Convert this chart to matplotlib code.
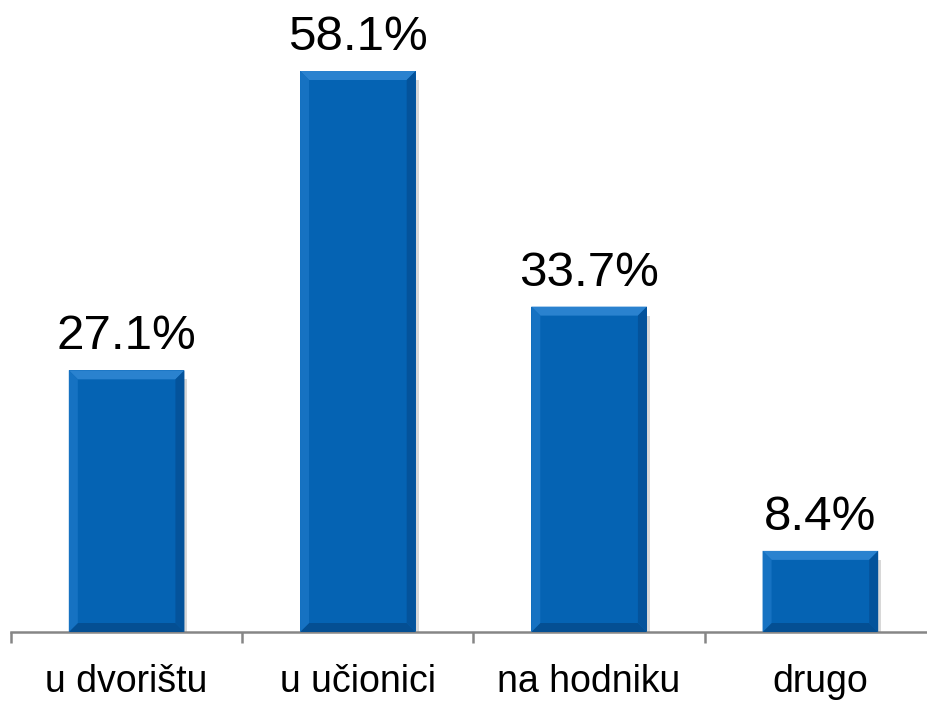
import matplotlib.pyplot as plt
from matplotlib.patches import Polygon

plt.rcParams['font.family'] = ['Liberation Sans', 'DejaVu Sans']

categories = ["u dvorištu", "u učionici", "na hodniku", "drugo"]
values = [27.1, 58.1, 33.7, 8.4]
labels = ["27.1%", "58.1%", "33.7%", "8.4%"]

fig = plt.figure(figsize=(9.28, 7.06), dpi=100)
ax = fig.add_axes([11 / 928, 74 / 706, 925 / 928, 627.6 / 706])

x = list(range(len(categories)))
bw = 0.5
bars = ax.bar(x, values, width=bw, color="#0563b3", zorder=2)
ax.set_xlim(-0.5, len(categories) - 0.5)
ax.set_ylim(0, 65)

# bevel effect, sized in pixels and converted to data units
fig.canvas.draw()
px_x = (ax.get_xlim()[1] - ax.get_xlim()[0]) / ax.bbox.width
px_y = (ax.get_ylim()[1] - ax.get_ylim()[0]) / ax.bbox.height
bev = 9
for b in bars:
	x0, w, h = b.get_x(), b.get_width(), b.get_height()
	x1 = x0 + w
	dx, dy = bev * px_x, bev * px_y
	# top
	ax.add_patch(Polygon([(x0, h), (x1, h), (x1 - dx, h - dy), (x0 + dx, h - dy)],
		closed=True, color="#2a82cf", lw=0, zorder=3))
	# bottom
	ax.add_patch(Polygon([(x0, 0), (x1, 0), (x1 - dx, dy), (x0 + dx, dy)],
		closed=True, color="#044f93", lw=0, zorder=3))
	# left
	ax.add_patch(Polygon([(x0, 0), (x0, h), (x0 + dx, h - dy), (x0 + dx, dy)],
		closed=True, color="#1672c2", lw=0, zorder=3))
	# right
	ax.add_patch(Polygon([(x1, 0), (x1, h), (x1 - dx, h - dy), (x1 - dx, dy)],
		closed=True, color="#04539b", lw=0, zorder=3))
	# soft shadow
	ax.add_patch(Polygon([(x1, 0), (x1, h - dy), (x1 + 3 * px_x, h - dy), (x1 + 3 * px_x, 0)],
		closed=True, color="#d8d8d8", lw=0, zorder=1))

for xi, v, lab in zip(x, values, labels):
	ax.annotate(lab, (xi, v), xytext=(0, 8), textcoords="offset points",
		ha="center", va="bottom", fontsize=35.5, color="#000000")

for s in ["top", "right", "left"]:
	ax.spines[s].set_visible(False)
ax.spines["bottom"].set_color("#868686")
ax.spines["bottom"].set_linewidth(1.8)
ax.set_yticks([])
ax.set_xticks(x)
ax.set_xticklabels(categories, fontsize=27)
ax.tick_params(axis="x", which="major", length=0, pad=23)
ax.set_xticks([i - 0.5 for i in range(len(categories) + 1)], minor=True)
ax.tick_params(axis="x", which="minor", length=8, width=1.8, color="#868686", direction="out")

fig.savefig("out.png", dpi=100)
